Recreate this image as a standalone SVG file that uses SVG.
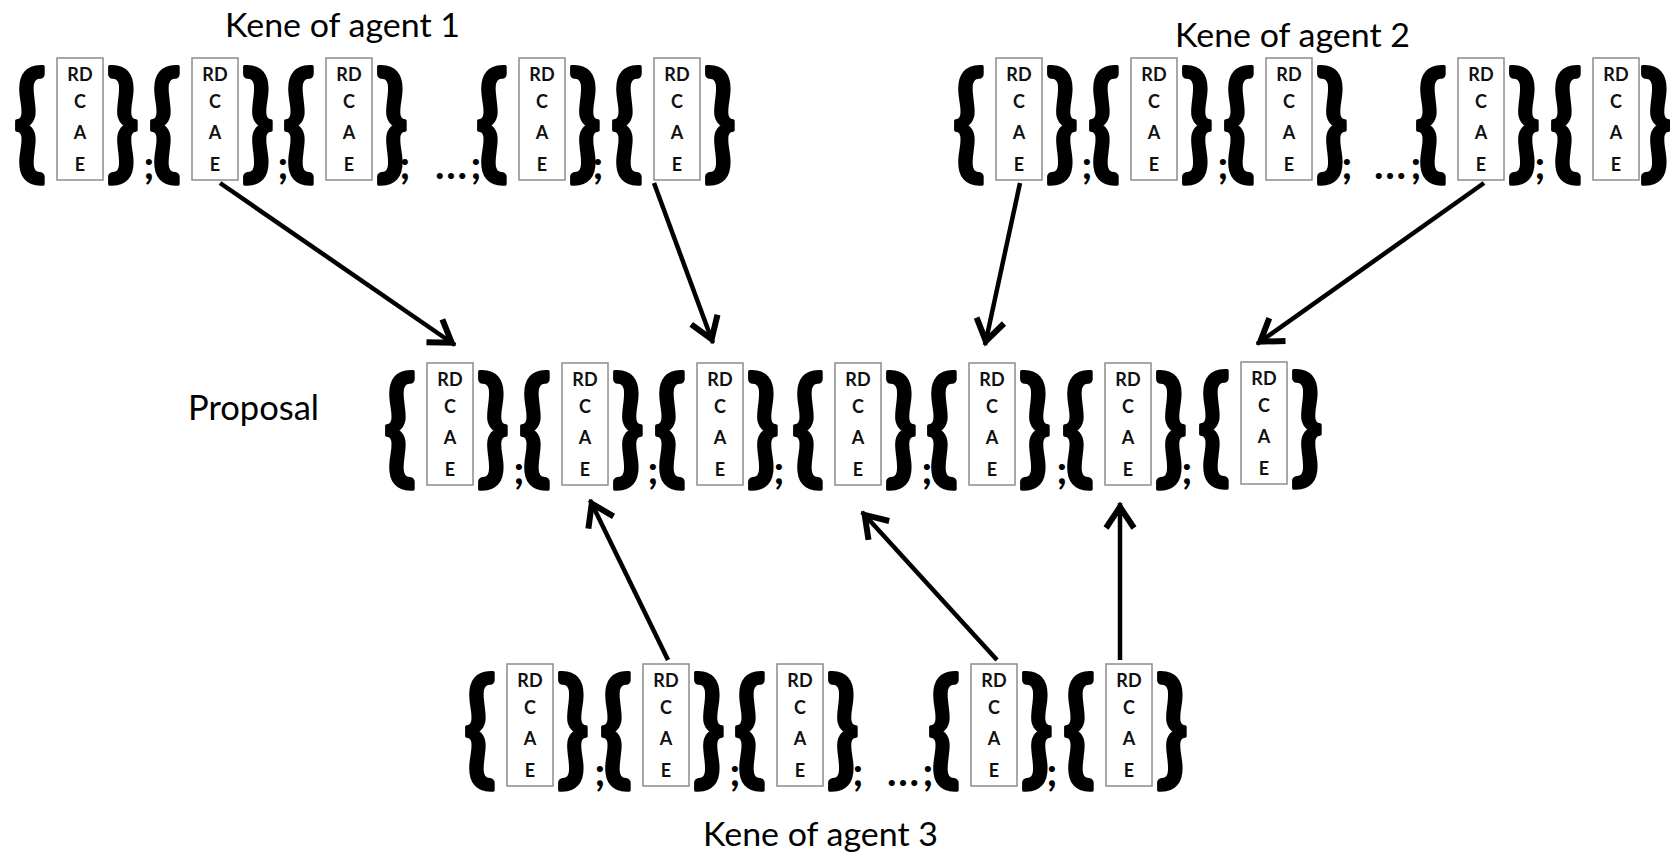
<svg xmlns="http://www.w3.org/2000/svg" width="1670" height="854" viewBox="0 0 1670 854">
<defs>
<style>
.bx{fill:#fff;stroke:#8c8c8c;stroke-width:1.5}
.lt{font-family:Lato,"Liberation Sans",sans-serif;font-weight:700;font-size:18px;text-anchor:middle;fill:#111}
.br{font-family:Lato,"Liberation Sans",sans-serif;font-weight:700;font-size:126px;text-anchor:middle;fill:#000;stroke:#000;stroke-width:3.5;stroke-linejoin:round;transform-box:fill-box;transform-origin:center;transform:scaleX(0.85)}
.sc{font-family:Lato,"Liberation Sans",sans-serif;font-weight:700;font-size:40px;text-anchor:middle;fill:#000}
.ttl{font-family:Lato,"Liberation Sans",sans-serif;font-size:32px;fill:#000}
.arr{stroke:#000;stroke-width:4.5;fill:none;marker-end:url(#ah)}
</style>
<marker id="ah" markerUnits="userSpaceOnUse" viewBox="-32 -18 38 36" refX="0" refY="0" markerWidth="38" markerHeight="36" orient="auto">
<path d="M-25,-14 L-4,0 L-25,14" fill="none" stroke="#000" stroke-width="6" stroke-linejoin="miter"/>
</marker>
</defs>
<rect width="1670" height="854" fill="#fff"/>

<g id="agent1">
<text class="ttl" x="225" y="37" textLength="235" lengthAdjust="spacingAndGlyphs">Kene of agent 1</text>
<g id="a1-1" transform="translate(57,58)"><text class="br" x="-27" y="106">{</text><rect class="bx" width="46" height="122"/><text class="lt" x="23" y="23">RD</text><text class="lt" x="23" y="50">C</text><text class="lt" x="23" y="81">A</text><text class="lt" x="23" y="113">E</text><text class="br" x="66" y="106">}</text></g>
<g id="a1-2" transform="translate(192,58)"><text class="br" x="-27" y="106">{</text><rect class="bx" width="46" height="122"/><text class="lt" x="23" y="23">RD</text><text class="lt" x="23" y="50">C</text><text class="lt" x="23" y="81">A</text><text class="lt" x="23" y="113">E</text><text class="br" x="66" y="106">}</text></g>
<g id="a1-3" transform="translate(326,58)"><text class="br" x="-27" y="106">{</text><rect class="bx" width="46" height="122"/><text class="lt" x="23" y="23">RD</text><text class="lt" x="23" y="50">C</text><text class="lt" x="23" y="81">A</text><text class="lt" x="23" y="113">E</text><text class="br" x="66" y="106">}</text></g>
<g id="a1-4" transform="translate(519,58)"><text class="br" x="-27" y="106">{</text><rect class="bx" width="46" height="122"/><text class="lt" x="23" y="23">RD</text><text class="lt" x="23" y="50">C</text><text class="lt" x="23" y="81">A</text><text class="lt" x="23" y="113">E</text><text class="br" x="66" y="106">}</text></g>
<g id="a1-5" transform="translate(654,58)"><text class="br" x="-27" y="106">{</text><rect class="bx" width="46" height="122"/><text class="lt" x="23" y="23">RD</text><text class="lt" x="23" y="50">C</text><text class="lt" x="23" y="81">A</text><text class="lt" x="23" y="113">E</text><text class="br" x="66" y="106">}</text></g>
<text class="sc" x="149" y="179">;</text><text class="sc" x="283" y="179">;</text><text class="sc" x="405" y="179">;</text>
<text class="sc" x="451" y="179" textLength="32" lengthAdjust="spacing">...</text>
<text class="sc" x="476" y="179">;</text><text class="sc" x="598" y="179">;</text>
</g>

<g id="agent2">
<text class="ttl" x="1175" y="47" textLength="235" lengthAdjust="spacingAndGlyphs">Kene of agent 2</text>
<g id="a2-1" transform="translate(996,58)"><text class="br" x="-27" y="106">{</text><rect class="bx" width="46" height="122"/><text class="lt" x="23" y="23">RD</text><text class="lt" x="23" y="50">C</text><text class="lt" x="23" y="81">A</text><text class="lt" x="23" y="113">E</text><text class="br" x="66" y="106">}</text></g>
<g id="a2-2" transform="translate(1131,58)"><text class="br" x="-27" y="106">{</text><rect class="bx" width="46" height="122"/><text class="lt" x="23" y="23">RD</text><text class="lt" x="23" y="50">C</text><text class="lt" x="23" y="81">A</text><text class="lt" x="23" y="113">E</text><text class="br" x="66" y="106">}</text></g>
<g id="a2-3" transform="translate(1266,58)"><text class="br" x="-27" y="106">{</text><rect class="bx" width="46" height="122"/><text class="lt" x="23" y="23">RD</text><text class="lt" x="23" y="50">C</text><text class="lt" x="23" y="81">A</text><text class="lt" x="23" y="113">E</text><text class="br" x="66" y="106">}</text></g>
<g id="a2-4" transform="translate(1458,58)"><text class="br" x="-27" y="106">{</text><rect class="bx" width="46" height="122"/><text class="lt" x="23" y="23">RD</text><text class="lt" x="23" y="50">C</text><text class="lt" x="23" y="81">A</text><text class="lt" x="23" y="113">E</text><text class="br" x="66" y="106">}</text></g>
<g id="a2-5" transform="translate(1593,58)"><text class="br" x="-27" y="106">{</text><rect class="bx" width="46" height="122"/><text class="lt" x="23" y="23">RD</text><text class="lt" x="23" y="50">C</text><text class="lt" x="23" y="81">A</text><text class="lt" x="23" y="113">E</text><text class="br" x="63" y="106">}</text></g>
<text class="sc" x="1087" y="179">;</text><text class="sc" x="1223" y="179">;</text><text class="sc" x="1347" y="179">;</text>
<text class="sc" x="1390" y="179" textLength="32" lengthAdjust="spacing">...</text>
<text class="sc" x="1416" y="179">;</text><text class="sc" x="1540" y="179">;</text>
</g>

<g id="proposal">
<text class="ttl" x="188" y="420" style="font-size:35px" textLength="131" lengthAdjust="spacingAndGlyphs">Proposal</text>
<g id="p-1" transform="translate(427,363)"><text class="br" x="-27" y="106">{</text><rect class="bx" width="46" height="122"/><text class="lt" x="23" y="23">RD</text><text class="lt" x="23" y="50">C</text><text class="lt" x="23" y="81">A</text><text class="lt" x="23" y="113">E</text><text class="br" x="66" y="106">}</text></g>
<g id="p-2" transform="translate(562,363)"><text class="br" x="-27" y="106">{</text><rect class="bx" width="46" height="122"/><text class="lt" x="23" y="23">RD</text><text class="lt" x="23" y="50">C</text><text class="lt" x="23" y="81">A</text><text class="lt" x="23" y="113">E</text><text class="br" x="66" y="106">}</text></g>
<g id="p-3" transform="translate(697,363)"><text class="br" x="-27" y="106">{</text><rect class="bx" width="46" height="122"/><text class="lt" x="23" y="23">RD</text><text class="lt" x="23" y="50">C</text><text class="lt" x="23" y="81">A</text><text class="lt" x="23" y="113">E</text><text class="br" x="66" y="106">}</text></g>
<g id="p-4" transform="translate(835,363)"><text class="br" x="-27" y="106">{</text><rect class="bx" width="46" height="122"/><text class="lt" x="23" y="23">RD</text><text class="lt" x="23" y="50">C</text><text class="lt" x="23" y="81">A</text><text class="lt" x="23" y="113">E</text><text class="br" x="66" y="106">}</text></g>
<g id="p-5" transform="translate(969,363)"><text class="br" x="-27" y="106">{</text><rect class="bx" width="46" height="122"/><text class="lt" x="23" y="23">RD</text><text class="lt" x="23" y="50">C</text><text class="lt" x="23" y="81">A</text><text class="lt" x="23" y="113">E</text><text class="br" x="66" y="106">}</text></g>
<g id="p-6" transform="translate(1105,363)"><text class="br" x="-27" y="106">{</text><rect class="bx" width="46" height="122"/><text class="lt" x="23" y="23">RD</text><text class="lt" x="23" y="50">C</text><text class="lt" x="23" y="81">A</text><text class="lt" x="23" y="113">E</text><text class="br" x="66" y="106">}</text></g>
<g id="p-7" transform="translate(1241,362)"><text class="br" x="-27" y="106">{</text><rect class="bx" width="46" height="122"/><text class="lt" x="23" y="23">RD</text><text class="lt" x="23" y="50">C</text><text class="lt" x="23" y="81">A</text><text class="lt" x="23" y="113">E</text><text class="br" x="66" y="106">}</text></g>
<text class="sc" x="519" y="484">;</text><text class="sc" x="653" y="484">;</text><text class="sc" x="779" y="484">;</text><text class="sc" x="927" y="484">;</text><text class="sc" x="1062" y="484">;</text><text class="sc" x="1187" y="484">;</text>
</g>

<g id="agent3">
<text class="ttl" x="703" y="846" textLength="235" lengthAdjust="spacingAndGlyphs">Kene of agent 3</text>
<g id="a3-1" transform="translate(507,664)"><text class="br" x="-27" y="106">{</text><rect class="bx" width="46" height="122"/><text class="lt" x="23" y="23">RD</text><text class="lt" x="23" y="50">C</text><text class="lt" x="23" y="81">A</text><text class="lt" x="23" y="113">E</text><text class="br" x="66" y="106">}</text></g>
<g id="a3-2" transform="translate(643,664)"><text class="br" x="-27" y="106">{</text><rect class="bx" width="46" height="122"/><text class="lt" x="23" y="23">RD</text><text class="lt" x="23" y="50">C</text><text class="lt" x="23" y="81">A</text><text class="lt" x="23" y="113">E</text><text class="br" x="66" y="106">}</text></g>
<g id="a3-3" transform="translate(777,664)"><text class="br" x="-27" y="106">{</text><rect class="bx" width="46" height="122"/><text class="lt" x="23" y="23">RD</text><text class="lt" x="23" y="50">C</text><text class="lt" x="23" y="81">A</text><text class="lt" x="23" y="113">E</text><text class="br" x="66" y="106">}</text></g>
<g id="a3-4" transform="translate(971,664)"><text class="br" x="-27" y="106">{</text><rect class="bx" width="46" height="122"/><text class="lt" x="23" y="23">RD</text><text class="lt" x="23" y="50">C</text><text class="lt" x="23" y="81">A</text><text class="lt" x="23" y="113">E</text><text class="br" x="66" y="106">}</text></g>
<g id="a3-5" transform="translate(1106,664)"><text class="br" x="-27" y="106">{</text><rect class="bx" width="46" height="122"/><text class="lt" x="23" y="23">RD</text><text class="lt" x="23" y="50">C</text><text class="lt" x="23" y="81">A</text><text class="lt" x="23" y="113">E</text><text class="br" x="66" y="106">}</text></g>
<text class="sc" x="600" y="786">;</text><text class="sc" x="735" y="786">;</text><text class="sc" x="858" y="786">;</text>
<text class="sc" x="903" y="786" textLength="32" lengthAdjust="spacing">...</text>
<text class="sc" x="928" y="786">;</text><text class="sc" x="1052" y="786">;</text>
</g>

<g id="connectors">
<line class="arr" x1="220" y1="183" x2="455" y2="345"/>
<line class="arr" x1="654" y1="183" x2="713" y2="343"/>
<line class="arr" x1="1020" y1="183" x2="985" y2="345"/>
<line class="arr" x1="1484" y1="183" x2="1257" y2="344"/>
<line class="arr" x1="668" y1="660" x2="590" y2="500"/>
<line class="arr" x1="997" y1="660" x2="862" y2="512"/>
<line class="arr" x1="1120" y1="660" x2="1120" y2="503"/>
</g>
</svg>
